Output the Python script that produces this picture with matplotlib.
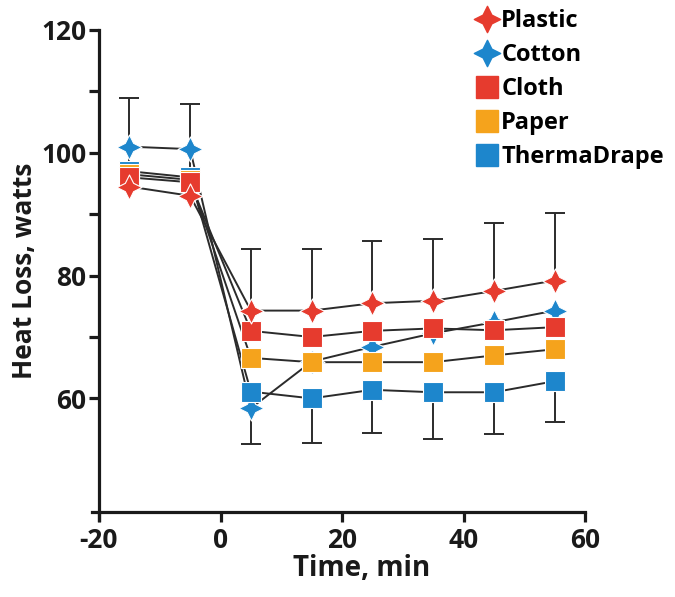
import numpy as np
import matplotlib
matplotlib.use("Agg")
import matplotlib.pyplot as plt
from matplotlib.path import Path
from matplotlib.lines import Line2D

# data
time = [-15, -5, 5, 15, 25, 35, 45, 55]
plastic = [94.5, 93.0, 74.3, 74.3, 75.5, 75.9, 77.5, 79.2]
cotton = [101.0, 100.6, 58.4, 66.0, 68.4, 70.6, 72.4, 74.3]
cloth = [96.0, 95.2, 71.0, 70.0, 71.0, 71.4, 71.1, 71.6]
paper = [96.5, 95.6, 66.6, 65.9, 65.9, 65.9, 67.0, 68.0]
therma = [97.0, 96.0, 61.1, 60.0, 61.4, 61.0, 61.0, 62.8]
plastic_err_up = [14.4, 14.9, 10.0, 10.0, 10.2, 10.1, 11.0, 11.0]
therma_err_down = [0, 0, 8.6, 7.2, 7.1, 7.6, 6.8, 6.7]

labels = ["Plastic", "Cotton", "Cloth", "Paper", "ThermaDrape"]

RED = "#E63B2E"
BLUE = "#1D86CC"
ORANGE = "#F5A31C"
LINE = "#2b2b2b"
INK = "#1a1a1a"

plt.rcParams["font.family"] = ["Open Sans", "DejaVu Sans"]
plt.rcParams["font.weight"] = "bold"
plt.rcParams["axes.unicode_minus"] = False

# concave four point star
ang = np.arange(8) * np.pi / 4 + np.pi / 2
rad = np.where(np.arange(8) % 2 == 0, 1.0, 0.47)
star_verts = np.column_stack([rad * np.cos(ang), rad * np.sin(ang)])
star = Path(np.vstack([star_verts, star_verts[:1]]), closed=True)

fig = plt.figure(figsize=(6.75, 5.97), dpi=100)
ax = fig.add_axes([99 / 675, 1 - 512 / 597, 486 / 675, 482 / 597])

# error bars under everything
ax.errorbar(time, plastic, yerr=[np.zeros(len(time)), plastic_err_up], fmt="none",
            ecolor=LINE, elinewidth=1.4, capsize=7.5, capthick=1.4, zorder=1)
ax.errorbar(time, therma, yerr=[therma_err_down, np.zeros(len(time))], fmt="none",
            ecolor=LINE, elinewidth=1.4, capsize=7.5, capthick=1.4, zorder=1)

series = [
    (cotton, star, BLUE, 18),
    (therma, "s", BLUE, 14.5),
    (paper, "s", ORANGE, 14.5),
    (cloth, "s", RED, 14.5),
    (plastic, star, RED, 18),
]
for i, (vals, mk, col, ms) in enumerate(series):
    ax.plot(time, vals, color=LINE, lw=1.4, zorder=2)
    ax.plot(time, vals, ls="none", marker=mk, ms=ms, mfc=col, mec="white",
            mew=0.8, zorder=3 + i)

ax.set_xlim(-20, 60)
ax.set_ylim(41.5, 120)
ax.set_xticks([-20, 0, 20, 40, 60])
ax.set_yticks([60, 80, 100, 120])
ax.set_yticks([70, 90, 110], minor=True)

for s in ["top", "right"]:
    ax.spines[s].set_visible(False)
for s in ["left", "bottom"]:
    ax.spines[s].set_linewidth(2.3)
    ax.spines[s].set_color(INK)
ax.spines["bottom"].set_bounds(-21.1, 60)
ax.spines["left"].set_bounds(40.2, 120)

ax.tick_params(which="both", direction="out", length=7, width=2.3,
               color=INK, labelsize=19, pad=2)
ax.tick_params(axis="x", pad=4)
for t in ax.get_xticklabels() + ax.get_yticklabels():
    t.set_fontweight("bold")
    t.set_color(INK)

ax.set_xlabel("Time, min", fontsize=20, fontweight="bold", color=INK, labelpad=0, x=0.54)
ax.set_ylabel("Heat Loss, watts", fontsize=19, fontweight="bold", color=INK, labelpad=2)

handles = [
    Line2D([], [], ls="none", marker=star, ms=19, mfc=RED, mec=RED),
    Line2D([], [], ls="none", marker=star, ms=19, mfc=BLUE, mec=BLUE),
    Line2D([], [], ls="none", marker="s", ms=16, mfc=RED, mec=RED),
    Line2D([], [], ls="none", marker="s", ms=16, mfc=ORANGE, mec=ORANGE),
    Line2D([], [], ls="none", marker="s", ms=16, mfc=BLUE, mec=BLUE),
]
fig.legend(handles, labels, loc="upper left", bbox_to_anchor=(467 / 675, 1.0),
           frameon=False, handlelength=0.9, handletextpad=0.15,
           labelspacing=0.42, borderaxespad=0.0, prop={"weight": "bold", "size": 17})

fig.savefig("out.png", dpi=100, facecolor="white")
